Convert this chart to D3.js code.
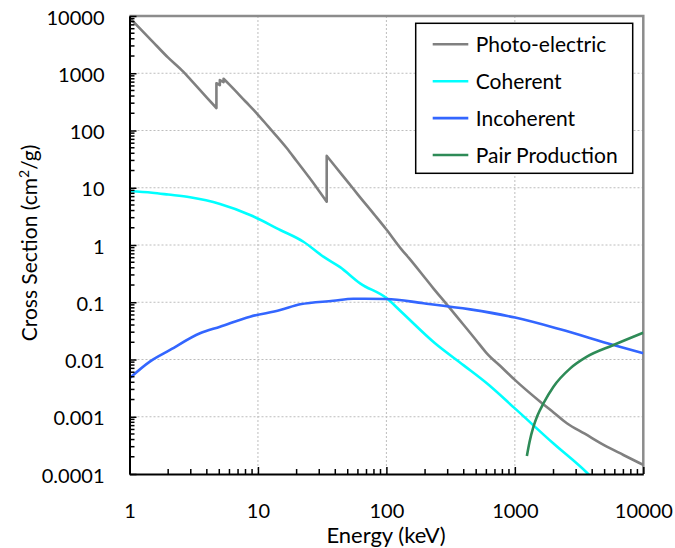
<!DOCTYPE html>
<html>
<head>
<meta charset="utf-8">
<script src="https://cdn.jsdelivr.net/npm/d3@7"></script>
<style>
  html, body { margin: 0; padding: 0; background: #fff; }
  svg { display: block; font-family: Lato, "Open Sans", sans-serif; }
</style>
</head>
<body>
<svg id="chart" width="675" height="548"></svg>
<script>
// Iodine photon interaction cross sections (cm^2/g) versus photon energy (keV)

const photoEnergy = [1, 1.5, 2, 2.62, 3, 4, 4.75, 4.75, 5.05, 5.05, 5.4, 5.4, 6, 8, 9.78, 12, 16.8, 20, 25, 30, 34.3,
  34.3, 40, 50, 60, 80, 100, 132, 150, 200, 232, 295, 400, 500, 605, 800, 1000, 1575, 2000, 2541, 3500, 5200, 7000, 10000];
const photoValues = [9400, 3650, 1870, 1064, 763, 376, 247, 670, 620, 760, 700, 800, 632, 321, 200, 118, 49, 29.3, 15.2, 8.7, 5.7,
  36, 23.5, 12.7, 7.6, 3.46, 1.86, 0.82, 0.59, 0.265, 0.175, 0.092, 0.040, 0.0217, 0.0128, 0.0071, 0.0044, 0.00183, 0.00119, 0.00077, 0.000505, 0.0003, 0.000215, 0.000144];

const coherentEnergy = [1, 1.5, 2, 2.96, 5.07, 8.68, 14.9, 22.6, 32.3, 43.6, 62.4, 100.7, 128, 239, 400, 605, 1000, 2000, 3640, 4000];
const coherentValues = [8.8, 8.2, 7.6, 6.8, 5.2, 3.34, 1.83, 1.14, 0.625, 0.41, 0.214, 0.117, 0.071, 0.0192, 0.0079, 0.00384, 0.0014, 0.00034, 0.000105, 0.000085];

const incoherentEnergy = [1, 1.44, 2.07, 3.54, 5.07, 8.68, 14.9, 21.3, 38.6, 55.3, 100, 194, 449, 1005, 2253, 5860, 10000];
const incoherentValues = [0.0047, 0.0092, 0.0147, 0.0287, 0.0374, 0.056, 0.073, 0.092, 0.106, 0.115, 0.114, 0.096, 0.075, 0.054, 0.0337, 0.0179, 0.0128];

const pairEnergy = [1240, 1300, 1396, 1500, 1671, 1998, 2700, 3640, 5860, 10000];
const pairValues = [0.000206, 0.00036, 0.00067, 0.00105, 0.00172, 0.00335, 0.0070, 0.0112, 0.0179, 0.0294];

const seriesNames = ["Photo-electric", "Coherent", "Incoherent", "Pair Production"];
const seriesColors = ["#808080", "#00ffff", "#3366ff", "#2e8b57"];

const xTickValues = [1, 10, 100, 1000, 10000];
const xTickLabels = ["1", "10", "100", "1000", "10000"];
const yTickValues = [10000, 1000, 100, 10, 1, 0.1, 0.01, 0.001, 0.0001];
const yTickLabels = ["10000", "1000", "100", "10", "1", "0.1", "0.01", "0.001", "0.0001"];

const series = [
  { energy: photoEnergy, values: photoValues },
  { energy: coherentEnergy, values: coherentValues },
  { energy: incoherentEnergy, values: incoherentValues },
  { energy: pairEnergy, values: pairValues }
].map((s, i) => ({ name: seriesNames[i], color: seriesColors[i],
  points: s.energy.map((e, j) => [e, s.values[j]]) }));

const svg = d3.select("#chart");
const plot = { left: 129.5, right: 643.3, top: 16, bottom: 474 };

const x = d3.scaleLog().domain([1, 10000]).range([plot.left, plot.right]);
const y = d3.scaleLog().domain([0.0001, 10000]).range([plot.bottom, plot.top]);

// minor tick positions: 2..9 within each decade
const minorX = [];
for (let d = 1; d < 10000; d *= 10) for (let k = 2; k <= 9; k++) minorX.push(d * k);
const minorY = [];
for (let d = 0.0001; d < 9999; d *= 10) for (let k = 2; k <= 9; k++) minorY.push(+(d * k).toPrecision(3));

// dotted grid at each decade
const grid = svg.append("g").attr("stroke", "#bdbdbd").attr("stroke-width", 1).attr("stroke-dasharray", "2,2");
grid.selectAll(".gx").data(xTickValues.slice(1, -1)).join("line")
  .attr("x1", d => x(d)).attr("x2", d => x(d)).attr("y1", plot.top).attr("y2", plot.bottom);
grid.selectAll(".gy").data(yTickValues.slice(1, -1)).join("line")
  .attr("y1", d => y(d)).attr("y2", d => y(d)).attr("x1", plot.left).attr("x2", plot.right);

// gray frame on top and right
svg.append("path")
  .attr("d", `M${plot.left},${plot.top}H${plot.right}V${plot.bottom}`)
  .attr("fill", "none").attr("stroke", "#8c8c8c").attr("stroke-width", 2.5);

// data lines, clipped to the plot area
svg.append("clipPath").attr("id", "clip").append("rect")
  .attr("x", plot.left).attr("y", plot.top)
  .attr("width", plot.right - plot.left).attr("height", plot.bottom - plot.top);

// smooth each run between absorption edges; edges (repeated energies) become vertical jumps
const smooth = d3.line().x(d => x(d[0])).y(d => y(d[1])).curve(d3.curveMonotoneX);
function edgePath(points) {
  const runs = [[points[0]]];
  for (let i = 1; i < points.length; i++) {
    if (points[i][0] === points[i - 1][0]) runs.push([]);
    runs[runs.length - 1].push(points[i]);
  }
  return runs.map((r, i) => {
    const p = r.length > 1 ? smooth(r) : `M${x(r[0][0])},${y(r[0][1])}`;
    return i === 0 ? p : p.replace(/^M/, "L");
  }).join("");
}

svg.append("g").attr("clip-path", "url(#clip)")
  .selectAll("path").data(series).join("path")
  .attr("d", d => edgePath(d.points))
  .attr("fill", "none").attr("stroke", d => d.color)
  .attr("stroke-width", 2.6).attr("stroke-linejoin", "round");

// axes: ticks point into the plot
const xAxis = d3.axisBottom(x).tickValues(xTickValues).tickFormat((d, i) => xTickLabels[i])
  .tickSizeInner(-7).tickSizeOuter(0).tickPadding(30);
const gx = svg.append("g").attr("transform", `translate(0,${plot.bottom})`).call(xAxis);
gx.selectAll(".tick line").attr("stroke", "#000").attr("stroke-width", 1.5);
gx.select(".domain").attr("stroke", "#000").attr("stroke-width", 2);
gx.selectAll("text").attr("font-size", 20).attr("fill", "#000").attr("font-family", "Lato, sans-serif");
gx.append("g").selectAll("line").data(minorX).join("line")
  .attr("x1", d => x(d)).attr("x2", d => x(d)).attr("y1", 0).attr("y2", -5)
  .attr("stroke", "#000").attr("stroke-width", 1.5);

const yAxis = d3.axisLeft(y).tickValues(yTickValues).tickFormat((d, i) => yTickLabels[i])
  .tickSizeInner(-7).tickSizeOuter(0).tickPadding(25);
const gy = svg.append("g").attr("transform", `translate(${plot.left},0)`).call(yAxis);
gy.selectAll(".tick line").attr("stroke", "#000").attr("stroke-width", 1.5);
gy.select(".domain").attr("stroke", "#000").attr("stroke-width", 2);
gy.selectAll("text").attr("font-size", 20).attr("fill", "#000").attr("font-family", "Lato, sans-serif").attr("dy", "0.4em");
gy.append("g").selectAll("line").data(minorY).join("line")
  .attr("y1", d => y(d)).attr("y2", d => y(d)).attr("x1", 0).attr("x2", 5)
  .attr("stroke", "#000").attr("stroke-width", 1.5);

// axis titles
svg.append("text").attr("x", 386).attr("y", 543).attr("text-anchor", "middle")
  .attr("font-size", 22).text("Energy (keV)");

const yTitle = svg.append("text").attr("transform", "translate(37,243) rotate(-90)")
  .attr("text-anchor", "middle").attr("font-size", 21);
yTitle.append("tspan").text("Cross Section (cm");
yTitle.append("tspan").attr("dy", -8).attr("font-size", 14).text("2");
yTitle.append("tspan").attr("dy", 8).text("/g)");

// legend
const legend = svg.append("g");
legend.append("rect").attr("x", 415.7).attr("y", 23.3).attr("width", 217).attr("height", 150)
  .attr("fill", "#fff").attr("stroke", "#000").attr("stroke-width", 1.5);
const rowY = d3.scalePoint().domain(seriesNames).range([44.3, 155]);
const rows = legend.selectAll(".row").data(series).join("g")
  .attr("transform", d => `translate(0,${rowY(d.name)})`);
rows.append("line").attr("x1", 432.7).attr("x2", 468.3)
  .attr("stroke", d => d.color).attr("stroke-width", 2.6);
rows.append("text").attr("x", 475.7).attr("dy", "0.36em").attr("font-size", 21)
  .text(d => d.name);
</script>
</body>
</html>
